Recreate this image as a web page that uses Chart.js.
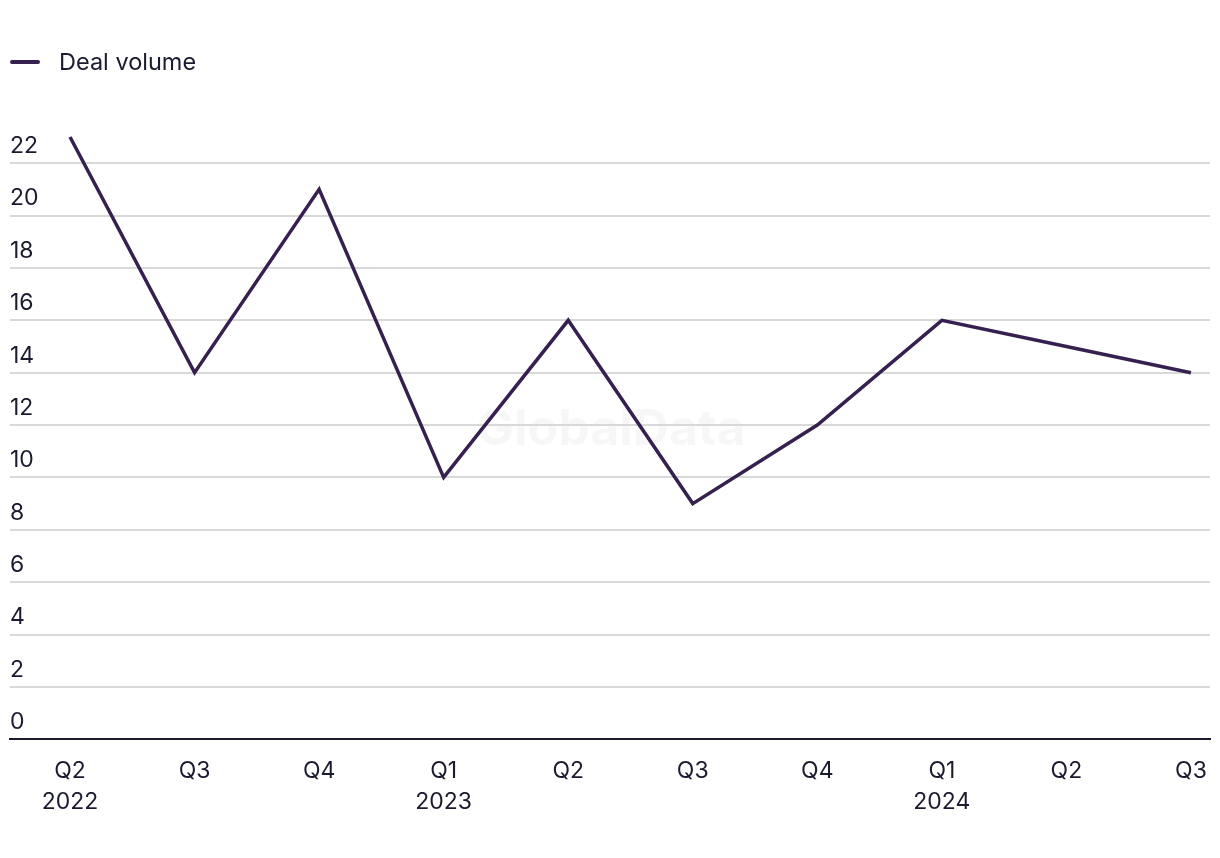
<!DOCTYPE html>
<html>
<head>
<meta charset="utf-8">
<script src="https://cdn.jsdelivr.net/npm/chart.js@4/dist/chart.umd.min.js"></script>
<style>
  html, body { margin: 0; padding: 0; background: #fff; }
  #wrap { position: relative; width: 1220px; height: 858px; font-family: Inter, "Noto Sans", sans-serif; color: #1b1b2f; }
  #legend { position: absolute; left: 10px; top: 47px; display: flex; align-items: center; font-size: 23.5px; }
  #legend .swatch { width: 30px; height: 4px; background: #35204f; margin-right: 19px; border-radius: 2px; }
  canvas { position: absolute; left: 0; top: 0; }
</style>
</head>
<body>
<div id="wrap">
  <canvas id="chart" width="1220" height="858"></canvas>
  <div id="legend"><span class="swatch"></span><span>Deal volume</span></div>
</div>
<script>
const quarters = ['Q2', 'Q3', 'Q4', 'Q1', 'Q2', 'Q3', 'Q4', 'Q1', 'Q2', 'Q3'];
const years = ['2022', '', '', '2023', '', '', '', '2024', '', ''];
const dealVolume = [23, 14, 21, 10, 16, 9, 12, 16, 15, 14];
const yTicks = [0, 2, 4, 6, 8, 10, 12, 14, 16, 18, 20, 22];

const lineColor = '#35204f';
const textColor = '#1b1b2f';
const fontFamily = 'Inter, "Noto Sans", sans-serif';

const watermark = {
    id: 'watermark',
    beforeDraw(chart) {
        const { ctx } = chart;
        ctx.save();
        ctx.font = 'bold 50px ' + fontFamily;
        ctx.fillStyle = 'rgba(0,0,0,0.03)';
        ctx.textAlign = 'center';
        ctx.textBaseline = 'middle';
        ctx.fillText('GlobalData', 611, 430);
        ctx.restore();
    }
};

const ctx = document.getElementById('chart').getContext('2d');
new Chart(ctx, {
    type: 'line',
    data: {
        datasets: [{
            label: 'Deal volume',
            data: dealVolume.map((v, i) => ({ x: i, y: v })),
            borderColor: lineColor,
            backgroundColor: lineColor,
            borderWidth: 3.5,
            pointRadius: 0,
            tension: 0,
            clip: false
        }]
    },
    options: {
        responsive: false,
        animation: false,
        layout: { padding: { top: 137, left: 10, right: 10, bottom: 41 } },
        plugins: { legend: { display: false }, tooltip: { enabled: false } },
        scales: {
            x: {
                type: 'linear',
                min: -0.482,
                max: 9.153,
                grid: {
                    display: true,
                    drawOnChartArea: false,
                    drawTicks: true,
                    tickLength: 17,
                    tickColor: 'rgba(0,0,0,0)'
                },
                border: { display: true, color: textColor, width: 2 },
                ticks: {
                    stepSize: 1,
                    includeBounds: false,
                    autoSkip: false,
                    maxRotation: 0,
                    padding: 0,
                    color: textColor,
                    font: { family: fontFamily, size: 23, lineHeight: 1.32 },
                    callback: (v) => {
                        if (!Number.isInteger(v) || v < 0 || v >= quarters.length) return '';
                        return years[v] ? [quarters[v], years[v]] : quarters[v];
                    }
                }
            },
            y: {
                min: 0,
                max: 23,
                grid: {
                    drawTicks: false,
                    color: (c) => c.tick && c.tick.value === 0 ? 'rgba(0,0,0,0)' : '#d9d9d9',
                    lineWidth: 2
                },
                border: { display: false },
                afterBuildTicks: (axis) => { axis.ticks = yTicks.map(v => ({ value: v })); },
                ticks: {
                    mirror: true,
                    padding: 0,
                    labelOffset: -17,
                    color: textColor,
                    font: { family: fontFamily, size: 23 }
                }
            }
        }
    },
    plugins: [watermark]
});
</script>
</body>
</html>
